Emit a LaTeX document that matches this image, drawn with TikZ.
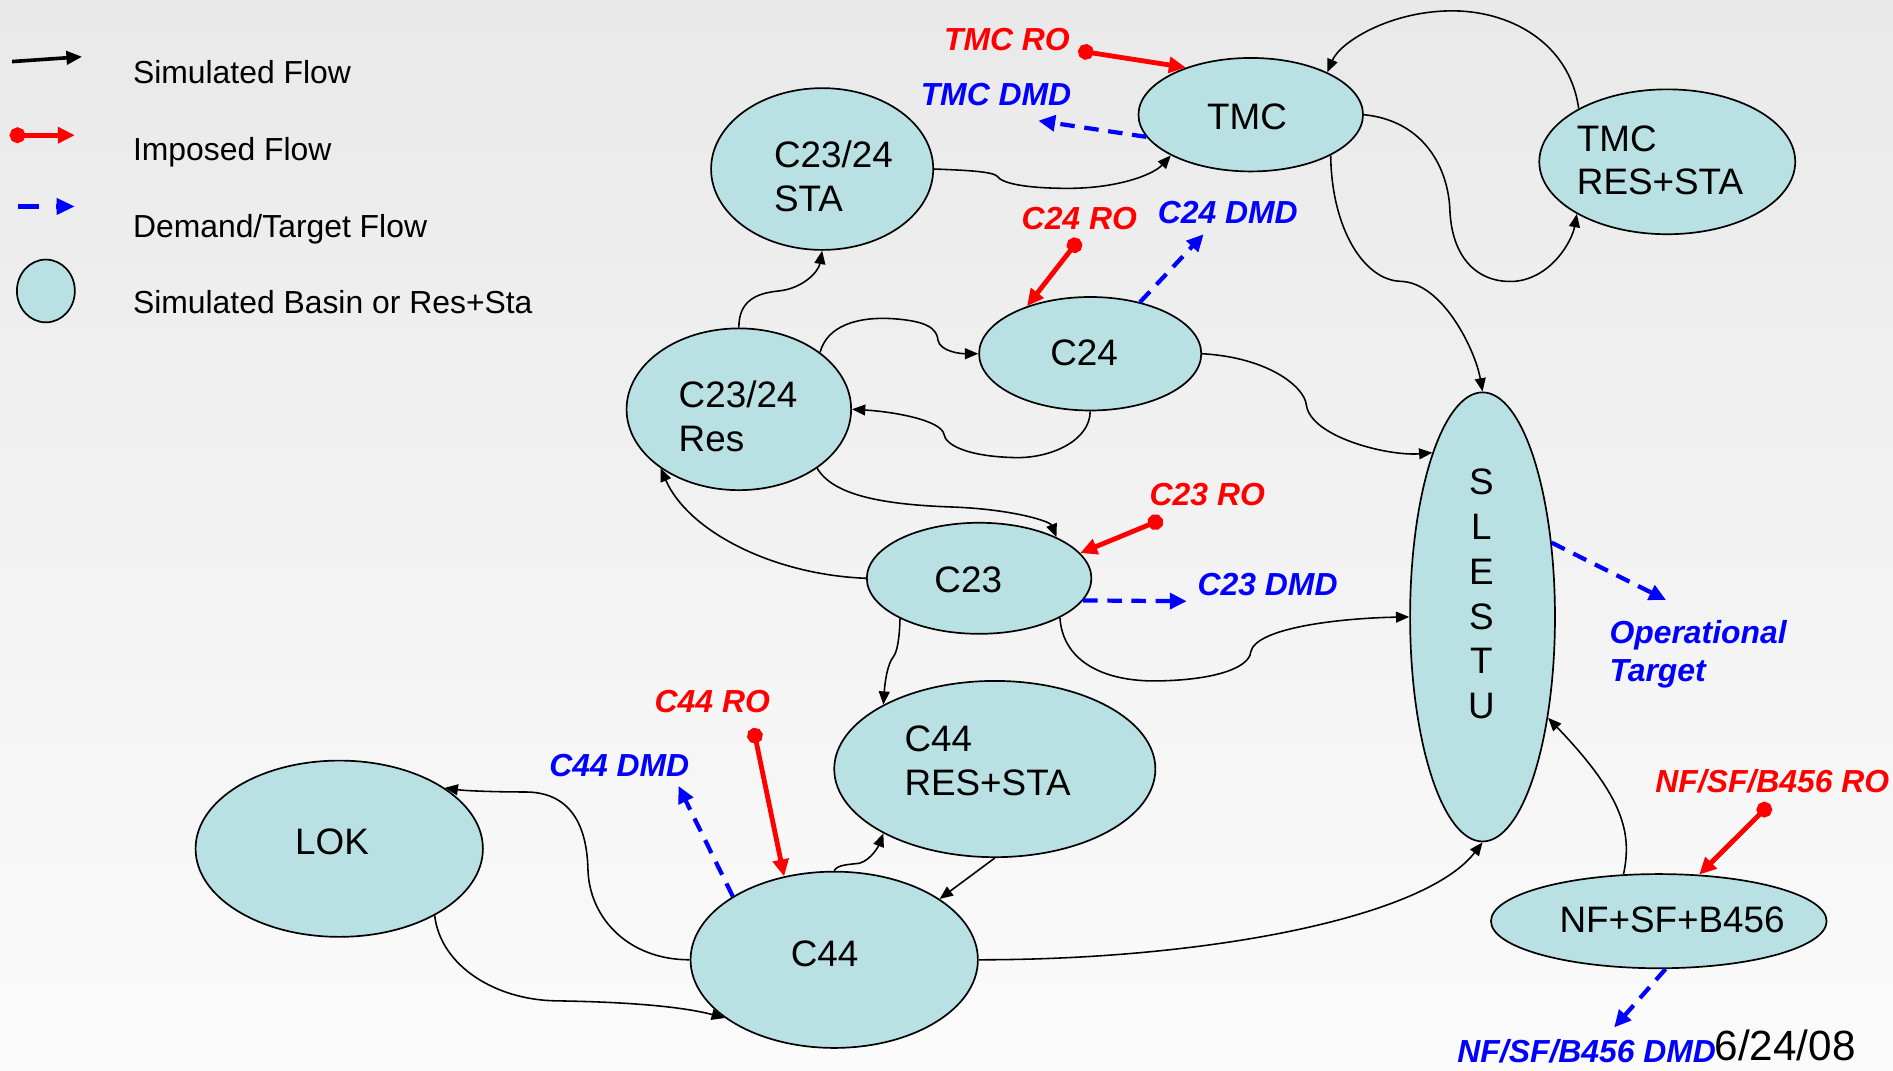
\documentclass[tikz,border=0pt]{standalone}
\usepackage{fontspec}
\setmainfont{Liberation Sans}
\usetikzlibrary{shapes.geometric,arrows.meta}
\definecolor{basincol}{RGB}{185,224,226}
\definecolor{rored}{RGB}{255,0,0}
\definecolor{dmdblue}{RGB}{0,0,255}
\definecolor{bgtop}{RGB}{233,233,233}
\definecolor{bgmid}{RGB}{242,242,242}
\definecolor{bgbot}{RGB}{251,251,251}
\begin{document}
\begin{tikzpicture}[x=1pt,y=-1pt,
  basin/.style={ellipse,draw=black,line width=1.4pt,fill=basincol,inner sep=0pt},
  ntext/.style={font=\fontsize{30.5}{36}\selectfont,inner sep=0pt,align=left},
  legtext/.style={font=\fontsize{26.4}{32}\selectfont,inner sep=0pt,anchor=west},
  rlab/.style={font=\fontsize{26.4}{32}\selectfont\bfseries\itshape,text=rored,inner sep=0pt},
  blab/.style={font=\fontsize{26.4}{32}\selectfont\bfseries\itshape,text=dmdblue,inner sep=0pt},
  datetext/.style={font=\fontsize{35}{40}\selectfont,inner sep=0pt,anchor=west},
  sim/.style={line width=1.3pt,-{Triangle[length=11pt,width=9pt]}},
  imp/.style={line width=4pt,draw=rored,{Circle[length=13pt]}-{Triangle[length=14pt,width=13pt]}},
  dmd/.style={line width=3.5pt,draw=dmdblue,dash pattern=on 12pt off 8pt,-{Triangle[length=14pt,width=13pt]}}
]
% background
\shade[top color=bgtop,bottom color=bgbot,middle color=bgmid] (0,0) rectangle (1568,887);
\useasboundingbox (0,0) rectangle (1568,887);

% ---------- legend ----------
\coordinate (lb1) at (10,51);
\coordinate (lb2) at (68,47);
\draw[line width=3pt,-{Triangle[length=13pt,width=11pt]}] (lb1) -- (lb2);
\node[legtext] (lt1) at (110,60) {Simulated Flow};
\coordinate (lr1) at (8,112);
\coordinate (lr2) at (62,112);
\draw[imp] (lr1) -- (lr2);
\node[legtext] (lt2) at (110,126.5) {Imposed Flow};
\coordinate (ld1) at (15,171);
\coordinate (ld2) at (62,171);
\draw[line width=3.5pt,draw=dmdblue,dash pattern=on 17pt off 14pt,-{Triangle[length=15pt,width=13pt]}] (ld1) -- (ld2);
\node[legtext] (lt3) at (110,189.5) {Demand/Target Flow};
\node[basin,minimum width=48pt,minimum height=52pt] (legbasin) at (38,241) {};
\node[legtext] (lt4) at (110,250) {Simulated Basin or Res+Sta};

% ---------- basins ----------
\node[basin,minimum width=186pt,minimum height=94pt] (tmc) at (1036,95) {};
\node[basin,minimum width=212pt,minimum height=120pt] (tmcres) at (1381,134) {};
\node[basin,minimum width=184pt,minimum height=134pt] (sta) at (681,140) {};
\node[basin,minimum width=184pt,minimum height=94pt] (c24) at (903,293) {};
\node[basin,minimum width=186pt,minimum height=134pt] (res) at (612,339) {};
\node[basin,minimum width=186pt,minimum height=92pt] (c23) at (811,479) {};
\node[basin,minimum width=120pt,minimum height=372pt] (slestu) at (1228,511) {};
\node[basin,minimum width=266pt,minimum height=146pt] (c44res) at (824,637) {};
\node[basin,minimum width=238pt,minimum height=146pt] (lok) at (281,703) {};
\node[basin,minimum width=238pt,minimum height=146pt] (c44) at (691,795) {};
\node[basin,minimum width=278pt,minimum height=78pt] (nf) at (1374,763) {};

% basin texts
\node[ntext] (t-tmc) at (1033,97) {TMC};
\node[ntext,anchor=west] (t-tmcres) at (1306,133) {TMC\\RES+STA};
\node[ntext,anchor=west] (t-sta) at (641,146) {C23/24\\STA};
\node[ntext] (t-c24) at (898,292) {C24};
\node[ntext,anchor=west] (t-res) at (562,345) {C23/24\\Res};
\node[ntext] (t-c23) at (802,480) {C23};
\node[ntext,align=center,font=\fontsize{30.5}{37}\selectfont] (t-slestu) at (1227,492) {S\\L\\E\\S\\T\\U};
\node[ntext,anchor=west] (t-c44res) at (749,630) {C44\\RES+STA};
\node[ntext] (t-lok) at (275,697) {LOK};
\node[ntext] (t-c44) at (683,790) {C44};
\node[ntext] (t-nf) at (1385,762) {NF+SF+B456};

% ---------- simulated flows ----------
\draw[sim] (sta.0) .. controls (800,141) and (822,142) .. (826,146) .. controls (830,152) and (850,156) .. (885,156) .. controls (925,156) and (955,145) .. (tmc.207);
\draw[sim] (tmcres.149) .. controls (1300,35) and (1250,8) .. (1200,9) .. controls (1150,10) and (1110,35) .. (tmc.29);
\draw[sim] (tmc.0) .. controls (1180,100) and (1200,140) .. (1201,175) .. controls (1203,215) and (1225,235) .. (1255,233) .. controls (1285,230) and (1302,200) .. (tmcres.210);
\draw[sim] (tmc.-27) .. controls (1103,190) and (1130,232) .. (1160,233) .. controls (1195,234) and (1222,290) .. (slestu.90);
\draw[sim] (res.90) .. controls (612,250) and (625,243) .. (645,241) .. controls (665,239) and (678,225) .. (sta.-90);
\draw[sim] (res.35) .. controls (685,270) and (710,262) .. (740,264) .. controls (768,266) and (776,272) .. (777,282) .. controls (779,291) and (795,293) .. (c24.180);
\draw[sim] (c24.-90) .. controls (903,365) and (870,380) .. (840,379) .. controls (800,378) and (783,368) .. (782,360) .. controls (780,348) and (740,341) .. (res.0);
\draw[sim] (c24.0) .. controls (1050,296) and (1080,320) .. (1082,335) .. controls (1085,362) and (1150,378) .. (slestu.107);
\draw[sim] (res.-37) .. controls (690,410) and (730,418) .. (790,420) .. controls (840,422) and (870,432) .. (c23.28);
\draw[sim] (c23.180) .. controls (640,476) and (570,440) .. (res.217);
\draw[sim] (c23.-26) .. controls (880,545) and (910,565) .. (960,564) .. controls (1010,563) and (1035,552) .. (1036,540) .. controls (1040,520) and (1110,512) .. (slestu.180);
\draw[sim] (c23.207) .. controls (745,530) and (743,540) .. (740,544) .. controls (735,550) and (733,565) .. (c44res.150);
\draw[sim] (c44.90) .. controls (693,716) and (705,716) .. (712,715) .. controls (722,712) and (728,700) .. (c44res.210);
\draw[sim] (c44res.-90) -- (c44.30);
\draw[sim] (c44.180) .. controls (520,795) and (488,760) .. (487,720) .. controls (486,680) and (470,656) .. (435,656) .. controls (410,656) and (385,655) .. (lok.30);
\draw[sim] (lok.-35) .. controls (365,800) and (410,828) .. (460,829) .. controls (530,830) and (570,835) .. (c44.208);
\draw[sim] (c44.0) .. controls (1000,795) and (1180,760) .. (slestu.-90);
\draw[sim] (nf.127) .. controls (1352,690) and (1345,660) .. (slestu.-57);

% ---------- imposed flows ----------
\coordinate (d-tmcro) at (893,42);
\coordinate (d-c24ro) at (894,198);
\coordinate (d-c23ro) at (963,430);
\coordinate (d-c44ro) at (624,603);
\coordinate (d-nfro) at (1466,666);
\draw[imp] (d-tmcro) -- (tmc.144);
\draw[imp] (d-c24ro) -- (c24.143);
\draw[imp] (d-c23ro) -- (c23.14);
\draw[imp] (d-c44ro) -- (c44.121);
\draw[imp] (d-nfro) -- (nf.49);

% ---------- demand / target flows ----------
\coordinate (e-tmcdmd) at (860,100);
\coordinate (e-c24dmd) at (997,194);
\coordinate (e-c23dmd) at (983,498);
\coordinate (e-c44dmd) at (562,651);
\coordinate (e-op) at (1380,497);
\coordinate (e-nfdmd) at (1337,851);
\draw[dmd] (tmc.192) -- (e-tmcdmd);
\draw[dmd] (c24.46) -- (e-c24dmd);
\draw[dmd] (c23.-12) -- (e-c23dmd);
\draw[dmd] (c44.148) -- (e-c44dmd);
\draw[dmd] (slestu.47) -- (e-op);
\draw[dmd] (nf.-82) -- (e-nfdmd);

% ---------- labels ----------
\node[rlab] (l-tmcro) at (834,33) {TMC RO};
\node[blab] (l-tmcdmd) at (825,78) {TMC DMD};
\node[rlab] (l-c24ro) at (894,181) {C24 RO};
\node[blab] (l-c24dmd) at (1017,176) {C24 DMD};
\node[rlab] (l-c23ro) at (1000,410) {C23 RO};
\node[blab] (l-c23dmd) at (1050,484) {C23 DMD};
\node[rlab] (l-c44ro) at (590,581) {C44 RO};
\node[blab] (l-c44dmd) at (513,634) {C44 DMD};
\node[blab,align=left,anchor=west] (l-op) at (1333,542) {Operational\\Target};
\node[rlab] (l-nfro) at (1468,647) {NF/SF/B456 RO};
\node[blab,anchor=west] (l-nfdmd) at (1207,871) {NF/SF/B456 DMD};
\node[datetext] (date) at (1420,866) {6/24/08};
\end{tikzpicture}
\end{document}
